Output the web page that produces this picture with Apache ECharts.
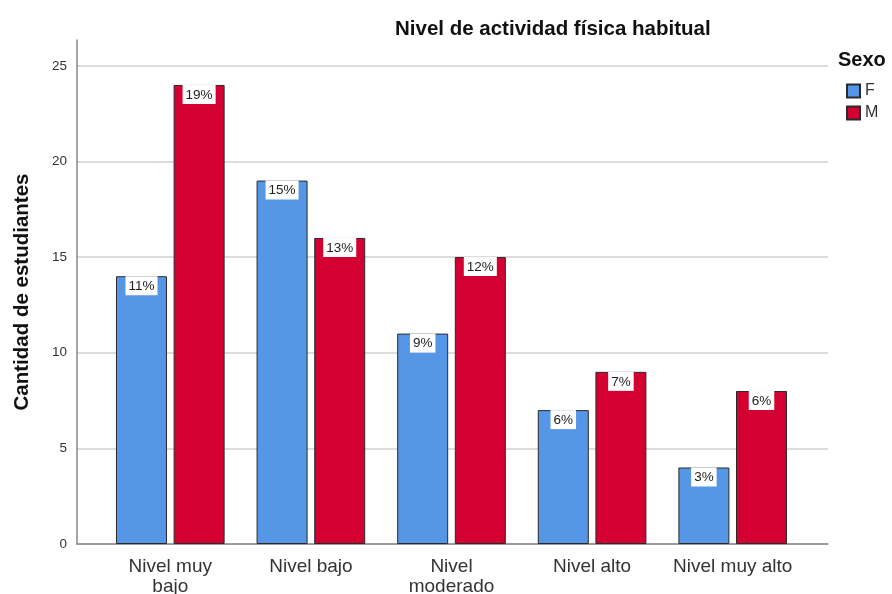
<!DOCTYPE html>
<html>
<head>
<meta charset="utf-8">
<script src="https://cdn.jsdelivr.net/npm/echarts@6/dist/echarts.min.js"></script>
<style>
    html, body { margin: 0; padding: 0; background: #fff; }
    #chart { width: 892px; height: 594px; }
</style>
</head>
<body>
<div id="chart"></div>
<script>
var categories = ['Nivel muy\nbajo', 'Nivel bajo', 'Nivel\nmoderado', 'Nivel alto', 'Nivel muy alto']
var femValues = [14, 19, 11, 7, 4]
var masValues = [24, 16, 15, 9, 8]
var femPct = ['11%', '15%', '9%', '6%', '3%']
var masPct = ['19%', '13%', '12%', '7%', '6%']
var yTicks = [0, 5, 10, 15, 20, 25]

var blue = '#5596E6'
var red = '#D50032'
var font = 'Liberation Sans, Arial, sans-serif'

var myChart = echarts.init(document.getElementById('chart'))

function pctLabel(list) {
    return {
        show: true,
        position: 'insideTop',
        distance: 0,
        backgroundColor: '#fff',
        padding: [3, 3, 2, 3],
        color: '#222',
        fontSize: 13.5,
        fontFamily: font,
        formatter: function (p) { return list[p.dataIndex] }
    }
}

var option = {
    animation: false,
    title: {
        text: 'Nivel de actividad física habitual',
        left: 390,
        top: 14,
        textStyle: { fontSize: 20.5, fontWeight: 'bold', color: '#111', fontFamily: font }
    },
    legend: {
        data: ['F', 'M'],
        orient: 'vertical',
        left: 841,
        top: 78,
        itemWidth: 13,
        itemHeight: 13,
        itemGap: 6,
        icon: 'rect',
        textStyle: { fontSize: 16, color: '#333', fontFamily: font, padding: [0, 0, 0, 0] }
    },
    graphic: [
        {
            type: 'text',
            left: 838,
            top: 50,
            style: { text: 'Sexo', fontSize: 20, fontWeight: 'bold', fill: '#111', fontFamily: font }
        },
        {
            type: 'text',
            x: 22,
            y: 292,
            rotation: Math.PI / 2,
            style: {
                text: 'Cantidad de estudiantes',
                fontSize: 20.5,
                fontWeight: 'bold',
                fill: '#111',
                fontFamily: font,
                align: 'center',
                verticalAlign: 'middle'
            }
        }
    ],
    grid: [
        // frame: axes, gridlines
        { left: 77, right: 64, top: 40, bottom: 50, outerBoundsMode: 'none' },
        // bars, padded inside the frame
        { left: 100, right: 89, top: 40, bottom: 50, outerBoundsMode: 'none' }
    ],
    xAxis: [
        {
            gridIndex: 0,
            type: 'value',
            min: 0,
            max: 1,
            axisLine: { show: true, lineStyle: { color: '#888', width: 1.5 } },
            axisTick: { show: false },
            axisLabel: { show: false },
            splitLine: { show: false }
        },
        {
            gridIndex: 1,
            type: 'category',
            data: categories,
            axisLine: { show: false },
            axisTick: { show: false },
            axisLabel: {
                fontSize: 19,
                color: '#333',
                fontFamily: font,
                lineHeight: 20,
                margin: 13,
                interval: 0
            }
        }
    ],
    yAxis: [
        {
            gridIndex: 0,
            type: 'value',
            min: 0,
            max: 26.35,
            interval: 5,
            axisLine: { show: true, lineStyle: { color: '#888', width: 1.5 } },
            axisTick: { show: false },
            axisLabel: {
                fontSize: 13.5,
                color: '#333',
                fontFamily: font,
                margin: 10,
                customValues: yTicks
            },
            splitLine: {
                show: true,
                showMaxLine: false,
                lineStyle: { color: '#d0d0d0', width: 1.5 }
            }
        },
        {
            gridIndex: 1,
            type: 'value',
            min: 0,
            max: 26.35,
            show: false,
            splitLine: { show: false }
        }
    ],
    series: [
        {
            name: 'F',
            type: 'bar',
            xAxisIndex: 1,
            yAxisIndex: 1,
            data: femValues,
            barWidth: 51,
            barGap: '13%',
            itemStyle: { color: blue, borderColor: '#2a2a2a', borderWidth: 1 },
            label: pctLabel(femPct)
        },
        {
            name: 'M',
            type: 'bar',
            xAxisIndex: 1,
            yAxisIndex: 1,
            data: masValues,
            barWidth: 51,
            barGap: '13%',
            itemStyle: { color: red, borderColor: '#2a2a2a', borderWidth: 1 },
            label: pctLabel(masPct)
        }
    ]
}

myChart.setOption(option)
</script>
</body>
</html>
